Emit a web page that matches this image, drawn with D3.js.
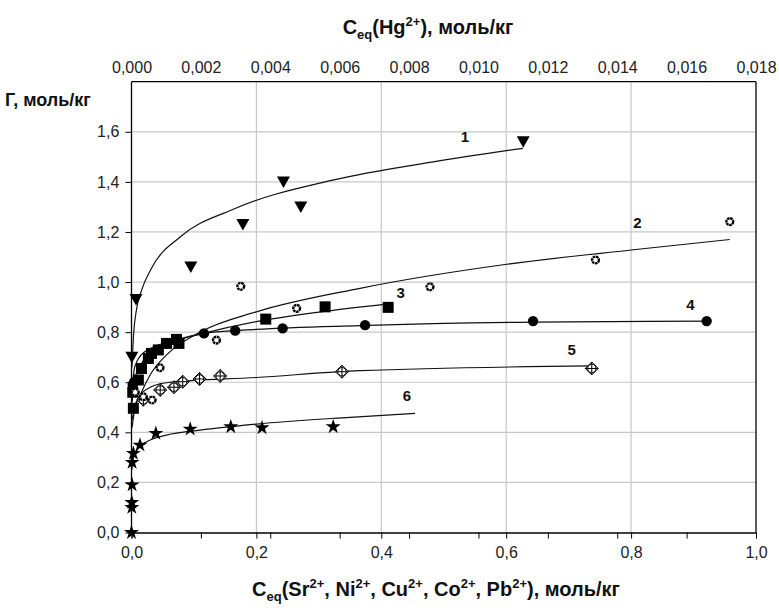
<!DOCTYPE html>
<html>
<head>
<meta charset="utf-8">
<script src="https://cdn.jsdelivr.net/npm/d3@7"></script>
<style>
  body { margin: 0; background: #fff; }
  svg text { font-family: "Liberation Sans", Arial, sans-serif; }
</style>
</head>
<body>
<svg id="chart" width="779" height="610"></svg>
<script>
// ticks
const xTicks = [0, 0.2, 0.4, 0.6, 0.8, 1.0];
const hgTicks = [0, 0.002, 0.004, 0.006, 0.008, 0.010, 0.012, 0.014, 0.016, 0.018];
const yTicks = [0, 0.2, 0.4, 0.6, 0.8, 1.0, 1.2, 1.4, 1.6];

// 1 - Hg (top axis), points and trend line
const s1Points = [[0.00001, 0.70], [0.00013, 0.93], [0.00171, 1.06], [0.00321, 1.23], [0.00438, 1.40], [0.00488, 1.30], [0.01129, 1.56]];
const s1Curve = [[0.000014, 0.66], [0.00006, 0.79], [0.00014, 0.887], [0.00029, 0.967], [0.00058, 1.056], [0.0014, 1.18], [0.0029, 1.289], [0.0058, 1.407], [0.0087, 1.48], [0.01128, 1.534]];
// 2
const s2Points = [[0.958, 1.241], [0.743, 1.088], [0.478, 0.981], [0.2645, 0.895], [0.175, 0.983], [0.136, 0.768], [0.0456, 0.658], [0.033, 0.529], [0.019, 0.542], [0.006, 0.56]];
const s2Curve = [[0.001, 0.42], [0.005, 0.49], [0.016, 0.56], [0.03, 0.63], [0.0565, 0.71], [0.11, 0.80], [0.2, 0.881], [0.366, 0.975], [0.601, 1.071], [0.8, 1.128], [0.958, 1.170]];
// 3
const s3Points = [[0.411, 0.899], [0.310, 0.901], [0.215, 0.852], [0.076, 0.755], [0.072, 0.771], [0.056, 0.755], [0.043, 0.729], [0.032, 0.715], [0.027, 0.695], [0.016, 0.655], [0.011, 0.609], [0.003, 0.496], [0.002, 0.56]];
const s3Curve = [[0.001, 0.52], [0.005, 0.61], [0.015, 0.67], [0.03, 0.715], [0.07, 0.765], [0.11, 0.792], [0.2, 0.842], [0.3, 0.88], [0.405, 0.911]];
// 4
const s4Points = [[0.921, 0.844], [0.643, 0.844], [0.374, 0.828], [0.242, 0.815], [0.166, 0.806], [0.116, 0.795], [0.004, 0.60], [0.002, 0.59]];
const s4Curve = [[0.0005, 0.55], [0.005, 0.66], [0.02, 0.72], [0.07, 0.768], [0.116, 0.795], [0.2, 0.811], [0.366, 0.826], [0.643, 0.84], [0.921, 0.844]];
// 5
const s5Points = [[0.737, 0.655], [0.337, 0.642], [0.142, 0.625], [0.109, 0.613], [0.082, 0.602], [0.068, 0.58], [0.046, 0.569], [0.019, 0.53]];
const s5Curve = [[0.001, 0.45], [0.005, 0.50], [0.013, 0.545], [0.03, 0.58], [0.056, 0.598], [0.2, 0.619], [0.366, 0.646], [0.737, 0.665]];
// 6
const s6Points = [[0.323, 0.422], [0.209, 0.418], [0.159, 0.422], [0.094, 0.413], [0.039, 0.396], [0.0136, 0.349], [0.003, 0.316], [0.001, 0.28], [0.001, 0.19], [0.0005, 0.12], [0.0005, 0.10], [0, 0]];
const s6Curve = [[0.0005, 0.25], [0.003, 0.30], [0.013, 0.343], [0.03, 0.369], [0.056, 0.389], [0.11, 0.409], [0.2, 0.433], [0.35, 0.46], [0.454, 0.476]];

// curve labels (x on bottom axis)
const curveLabels = [["1", 0.534, 1.56], ["2", 0.81, 1.215], ["3", 0.431, 0.935], ["4", 0.895, 0.89], ["5", 0.705, 0.71], ["6", 0.441, 0.525]];

const svg = d3.select('#chart');
const mLeft = 131.5, mRight = 756, mTop = 81.7, mBottom = 532.5;

const x = d3.scaleLinear().domain([0, 1]).range([mLeft, mRight]);
const xHg = d3.scaleLinear().domain([0, 0.018]).range([mLeft, mRight]);
const y = d3.scaleLinear().domain([0, 1.8]).range([mBottom, mTop]);

const comma = f => d => d3.format(f)(d).replace('.', ',');

//网格
const grid = svg.append('g').attr('stroke', '#c8c8c8').attr('stroke-width', 1.2);
grid.selectAll('line.v').data([0.2, 0.4, 0.6, 0.8]).enter().append('line')
    .attr('x1', d => x(d)).attr('x2', d => x(d)).attr('y1', mTop).attr('y2', mBottom);
grid.selectAll('line.h').data(yTicks.slice(1)).enter().append('line')
    .attr('x1', mLeft).attr('x2', mRight).attr('y1', d => y(d)).attr('y2', d => y(d));

// frame top/right
svg.append('line').attr('x1', mLeft).attr('x2', mRight).attr('y1', mTop).attr('y2', mTop).attr('stroke', '#000').attr('stroke-width', 1.3);
svg.append('line').attr('x1', mRight).attr('x2', mRight).attr('y1', mTop).attr('y2', mBottom).attr('stroke', '#000').attr('stroke-width', 1.3);

// bottom axis
const xAxis = svg.append('g').attr('transform', `translate(0,${mBottom})`)
    .call(d3.axisBottom(x).tickValues(xTicks).tickFormat(comma('.1f')).tickSize(6).tickSizeOuter(0));
// secondary ticks on the bottom line
svg.append('g').attr('transform', `translate(0,${mBottom})`)
    .call(d3.axisBottom(xHg).tickValues(hgTicks).tickFormat('').tickSize(6).tickSizeOuter(0))
    .select('.domain').remove();

// top axis (labels only)
const hgAxis = svg.append('g').attr('transform', `translate(0,${mTop})`)
    .call(d3.axisTop(xHg).tickValues(hgTicks).tickFormat(comma('.3f')).tickSize(0).tickPadding(9));
hgAxis.select('.domain').remove();

// left axis
const yAxis = svg.append('g').attr('transform', `translate(${mLeft},0)`)
    .call(d3.axisLeft(y).tickValues(yTicks).tickFormat(comma('.1f')).tickSize(6).tickSizeOuter(0));

[xAxis, hgAxis, yAxis].forEach(a => {
    a.selectAll('text').attr('font-size', 16).attr('fill', '#222');
    a.selectAll('.domain').attr('stroke-width', 1.3);
});
yAxis.select('.domain').attr('d', `M0,${mTop}V${mBottom}`);
yAxis.selectAll('text').attr('dx', '-0.2em');
xAxis.selectAll('text').attr('dy', '1.0em');

// trend lines
const line = d3.line().curve(d3.curveMonotoneX);
const drawCurve = (data, sx) => svg.append('path')
    .attr('d', line(data.map(d => [sx(d[0]), y(d[1])])))
    .attr('fill', 'none').attr('stroke', '#111').attr('stroke-width', 1.2);
drawCurve(s1Curve, xHg);
drawCurve(s2Curve, x);
drawCurve(s3Curve, x);
drawCurve(s4Curve, x);
drawCurve(s5Curve, x);
drawCurve(s6Curve, x);

// markers
const sym = (type, size) => d3.symbol().type(type).size(size)();
const g = svg.append('g');

g.selectAll('path.s6').data(s6Points).enter().append('path')
    .attr('transform', d => `translate(${x(d[0])},${y(d[1])})`)
    .attr('d', sym(d3.symbolStar, 70)).attr('fill', '#000');

g.selectAll('g.s5').data(s5Points).enter().append('g')
    .attr('transform', d => `translate(${x(d[0])},${y(d[1])})`)
    .each(function () {
        const m = d3.select(this);
        m.append('path').attr('d', 'M0,-6.5L6.5,0L0,6.5L-6.5,0Z').attr('fill', '#fff').attr('stroke', '#000').attr('stroke-width', 1);
        m.append('circle').attr('r', 4.2).attr('fill', 'none').attr('stroke', '#000').attr('stroke-width', 1);
        m.append('path').attr('d', 'M0,-6.5V6.5M-6.5,0H6.5').attr('stroke', '#000').attr('stroke-width', 1);
    });

g.selectAll('circle.s4').data(s4Points).enter().append('circle')
    .attr('cx', d => x(d[0])).attr('cy', d => y(d[1])).attr('r', 5.2).attr('fill', '#000');

g.selectAll('rect.s3').data(s3Points).enter().append('rect')
    .attr('x', d => x(d[0]) - 5.5).attr('y', d => y(d[1]) - 5.5)
    .attr('width', 11).attr('height', 11).attr('fill', '#000');

g.selectAll('circle.s2').data(s2Points).enter().append('circle')
    .attr('cx', d => x(d[0])).attr('cy', d => y(d[1])).attr('r', 3.4)
    .attr('fill', '#fff').attr('stroke', '#000').attr('stroke-width', 2.4)
    .attr('stroke-dasharray', '2.6,0.6');

g.selectAll('path.s1').data(s1Points).enter().append('path')
    .attr('transform', d => `translate(${xHg(d[0])},${y(d[1])})`)
    .attr('d', 'M-6.5,-5.5L6.5,-5.5L0,6Z').attr('fill', '#000');

// curve numbers
svg.selectAll('text.lbl').data(curveLabels).enter().append('text')
    .attr('x', d => x(d[1])).attr('y', d => y(d[2]))
    .attr('text-anchor', 'middle').attr('font-size', 15).attr('font-weight', 'bold')
    .attr('fill', '#111').text(d => d[0]);

// titles
const topTitle = svg.append('text').attr('x', 428).attr('y', 34).attr('text-anchor', 'middle')
    .attr('font-size', 20).attr('font-weight', 'bold').attr('fill', '#111');
topTitle.append('tspan').text('C');
topTitle.append('tspan').attr('font-size', 13).attr('dy', 5).text('eq');
topTitle.append('tspan').attr('dy', -5).text('(Hg');
topTitle.append('tspan').attr('font-size', 13).attr('dy', -8).text('2+');
topTitle.append('tspan').attr('dy', 8).text('), моль/кг');

const botTitle = svg.append('text').attr('x', 436).attr('y', 596).attr('text-anchor', 'middle')
    .attr('font-size', 20).attr('font-weight', 'bold').attr('fill', '#111');
botTitle.append('tspan').text('C');
botTitle.append('tspan').attr('font-size', 13).attr('dy', 5).text('eq');
const ions = ['Sr', 'Ni', 'Cu', 'Co', 'Pb'];
ions.forEach((ion, i) => {
    botTitle.append('tspan').attr('dy', i === 0 ? -5 : 8).text((i === 0 ? '(' : ', ') + ion);
    botTitle.append('tspan').attr('font-size', 13).attr('dy', -8).text('2+');
});
botTitle.append('tspan').attr('dy', 8).text('), моль/кг');

svg.append('text').attr('x', 5).attr('y', 106).attr('font-size', 18).attr('font-weight', 'bold')
    .attr('fill', '#111').text('Г, моль/кг');
</script>
</body>
</html>
